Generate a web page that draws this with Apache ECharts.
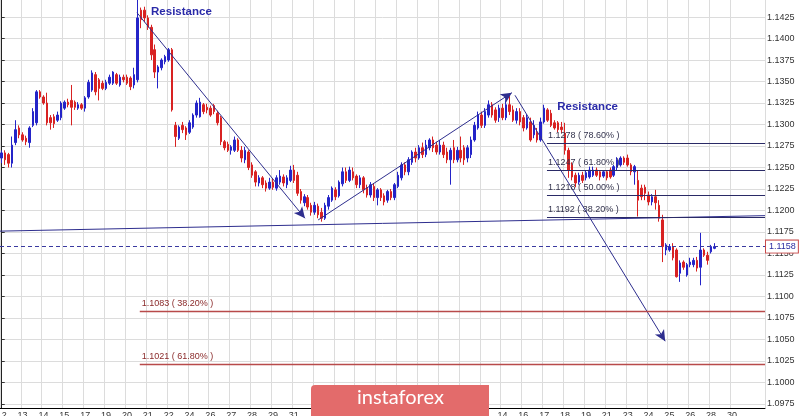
<!DOCTYPE html>
<html><head><meta charset="utf-8">
<script src="https://cdn.jsdelivr.net/npm/echarts@6/dist/echarts.min.js"></script>
<style>html,body{margin:0;padding:0;background:#fff}#c{width:800px;height:416px}</style>
</head><body><div id="c"></div>
<script>
// ---- data ----
const tradingDays = ['Dec 12','Dec 13','Dec 14','Dec 15','Dec 17','Dec 19','Dec 20','Dec 21','Dec 22','Dec 24','Dec 26','Dec 27','Dec 28','Dec 29','Dec 31',
  'Jan 02','Jan 03','Jan 04','Jan 06','Jan 07','Jan 08','Jan 09','Jan 10','Jan 11',
  'Jan 14','Jan 16','Jan 17','Jan 18','Jan 19','Jan 21','Jan 23','Jan 24','Jan 25','Jan 26','Jan 28','Jan 30'];
const sessionHours = ['00','04','08','12','16','20'];
const tailBars = ['Jan 31 00','Jan 31 04','Jan 31 08','Jan 31 12'];
const priceTicks = [1.0975,1.1000,1.1025,1.1050,1.1075,1.1100,1.1125,1.1150,1.1175,1.1200,1.1225,1.1250,1.1275,1.1300,1.1325,1.1350,1.1375,1.1400,1.1425];
// [open, close, low, high]
const ohlc = [
[1.1261,1.1267,1.1255,1.1270],[1.1267,1.1259,1.1253,1.1270],[1.1265,1.1255,1.1250,1.1267],[1.1255,1.1276,1.1250,1.1286],
[1.1279,1.1294,1.1276,1.1305],[1.1296,1.1288,1.1284,1.1299],[1.1288,1.1282,1.1280,1.1291],[1.1284,1.1280,1.1276,1.1287],
[1.1279,1.1296,1.1273,1.1298],[1.1299,1.1315,1.1297,1.1319],[1.1302,1.1338,1.1299,1.1340],[1.1338,1.1332,1.1330,1.1340],
[1.1332,1.1325,1.1323,1.1334],[1.1325,1.1302,1.1299,1.1337],[1.1308,1.1302,1.1294,1.1311],[1.1309,1.1301,1.1296,1.1312],
[1.1305,1.1311,1.1303,1.1315],[1.1308,1.1325,1.1305,1.1327],[1.1319,1.1326,1.1317,1.1328],[1.1326,1.1323,1.1320,1.1330],
[1.1328,1.1320,1.1299,1.1346],[1.1326,1.1320,1.1317,1.1328],[1.1319,1.1323,1.1317,1.1326],[1.1323,1.1319,1.1317,1.1325],
[1.1319,1.1331,1.1315,1.1333],[1.1332,1.1349,1.1330,1.1352],[1.1340,1.1360,1.1338,1.1363],[1.1358,1.1338,1.1334,1.1361],
[1.1352,1.1342,1.1328,1.1354],[1.1348,1.1342,1.1340,1.1351],[1.1342,1.1349,1.1340,1.1352],[1.1348,1.1355,1.1346,1.1358],
[1.1348,1.1361,1.1346,1.1362],[1.1358,1.1348,1.1346,1.1360],[1.1346,1.1355,1.1344,1.1358],[1.1355,1.1352,1.1349,1.1358],
[1.1355,1.1348,1.1346,1.1358],[1.1354,1.1344,1.1340,1.1356],[1.1346,1.1358,1.1342,1.1366],[1.1352,1.1424,1.1349,1.1445],
[1.1433,1.1422,1.1412,1.1436],[1.1433,1.1424,1.1419,1.1437],[1.1424,1.1413,1.1410,1.1427],[1.1413,1.1381,1.1375,1.1416],
[1.1387,1.1361,1.1354,1.1393],[1.1361,1.1367,1.1342,1.1369],[1.1366,1.1375,1.1363,1.1377],[1.1373,1.1379,1.1370,1.1381],
[1.1375,1.1387,1.1373,1.1389],[1.1387,1.1317,1.1315,1.1389],[1.1299,1.1286,1.1274,1.1303],[1.1284,1.1297,1.1282,1.1299],
[1.1299,1.1294,1.1290,1.1303],[1.1296,1.1288,1.1282,1.1298],[1.1291,1.1302,1.1289,1.1305],[1.1297,1.1311,1.1295,1.1313],
[1.1311,1.1325,1.1308,1.1328],[1.1309,1.1326,1.1308,1.1331],[1.1323,1.1315,1.1312,1.1325],[1.1320,1.1317,1.1313,1.1324],
[1.1319,1.1311,1.1309,1.1322],[1.1322,1.1315,1.1312,1.1324],[1.1313,1.1302,1.1299,1.1316],[1.1308,1.1280,1.1276,1.1310],
[1.1280,1.1273,1.1270,1.1282],[1.1277,1.1270,1.1268,1.1280],[1.1270,1.1274,1.1265,1.1276],[1.1270,1.1282,1.1268,1.1286],
[1.1282,1.1270,1.1268,1.1284],[1.1270,1.1261,1.1256,1.1275],[1.1259,1.1270,1.1255,1.1274],[1.1268,1.1250,1.1247,1.1270],
[1.1253,1.1241,1.1238,1.1256],[1.1245,1.1233,1.1228,1.1247],[1.1232,1.1238,1.1228,1.1241],[1.1238,1.1230,1.1226,1.1240],
[1.1232,1.1226,1.1222,1.1235],[1.1226,1.1233,1.1224,1.1238],[1.1233,1.1227,1.1224,1.1237],[1.1226,1.1238,1.1223,1.1241],
[1.1233,1.1240,1.1230,1.1247],[1.1239,1.1232,1.1228,1.1242],[1.1230,1.1238,1.1226,1.1241],[1.1235,1.1247,1.1233,1.1252],
[1.1247,1.1235,1.1232,1.1253],[1.1241,1.1220,1.1217,1.1245],[1.1222,1.1212,1.1208,1.1225],[1.1209,1.1216,1.1205,1.1219],
[1.1215,1.1204,1.1201,1.1218],[1.1206,1.1198,1.1194,1.1209],[1.1198,1.1206,1.1195,1.1210],[1.1205,1.1195,1.1191,1.1208],
[1.1198,1.1191,1.1187,1.1203],[1.1191,1.1206,1.1189,1.1209],[1.1205,1.1215,1.1201,1.1218],[1.1212,1.1226,1.1210,1.1228],
[1.1224,1.1216,1.1212,1.1227],[1.1217,1.1233,1.1215,1.1235],[1.1231,1.1245,1.1228,1.1250],[1.1245,1.1235,1.1232,1.1250],
[1.1235,1.1247,1.1233,1.1251],[1.1245,1.1238,1.1235,1.1250],[1.1240,1.1230,1.1226,1.1242],[1.1230,1.1238,1.1226,1.1241],
[1.1238,1.1224,1.1220,1.1240],[1.1226,1.1218,1.1215,1.1230],[1.1218,1.1230,1.1215,1.1233],[1.1228,1.1215,1.1211,1.1232],
[1.1215,1.1224,1.1206,1.1226],[1.1224,1.1215,1.1211,1.1226],[1.1217,1.1210,1.1206,1.1220],[1.1212,1.1222,1.1209,1.1224],
[1.1222,1.1215,1.1212,1.1225],[1.1215,1.1230,1.1212,1.1232],[1.1228,1.1241,1.1226,1.1245],[1.1238,1.1253,1.1235,1.1256],
[1.1253,1.1245,1.1241,1.1256],[1.1245,1.1259,1.1241,1.1262],[1.1256,1.1268,1.1253,1.1270],[1.1268,1.1261,1.1256,1.1273],
[1.1261,1.1273,1.1259,1.1276],[1.1273,1.1265,1.1261,1.1279],[1.1265,1.1276,1.1262,1.1282],[1.1273,1.1282,1.1270,1.1284],
[1.1282,1.1273,1.1268,1.1286],[1.1276,1.1268,1.1265,1.1280],[1.1268,1.1276,1.1265,1.1282],[1.1276,1.1265,1.1261,1.1280],
[1.1268,1.1259,1.1255,1.1273],[1.1259,1.1270,1.1230,1.1273],[1.1273,1.1259,1.1255,1.1282],[1.1259,1.1270,1.1256,1.1274],
[1.1270,1.1261,1.1256,1.1286],[1.1273,1.1259,1.1253,1.1276],[1.1261,1.1273,1.1256,1.1276],[1.1265,1.1282,1.1261,1.1286],
[1.1282,1.1299,1.1280,1.1303],[1.1296,1.1311,1.1294,1.1315],[1.1311,1.1299,1.1296,1.1315],[1.1299,1.1315,1.1296,1.1319],
[1.1311,1.1323,1.1308,1.1328],[1.1323,1.1311,1.1308,1.1326],[1.1317,1.1305,1.1302,1.1320],[1.1308,1.1319,1.1303,1.1323],
[1.1319,1.1308,1.1305,1.1324],[1.1308,1.1323,1.1305,1.1328],[1.1323,1.1315,1.1311,1.1333],[1.1317,1.1305,1.1303,1.1322],
[1.1305,1.1315,1.1301,1.1319],[1.1315,1.1303,1.1299,1.1319],[1.1308,1.1296,1.1292,1.1311],[1.1296,1.1308,1.1294,1.1312],
[1.1303,1.1282,1.1280,1.1308],[1.1288,1.1299,1.1284,1.1305],[1.1291,1.1282,1.1279,1.1296],[1.1282,1.1303,1.1280,1.1308],
[1.1303,1.1319,1.1301,1.1323],[1.1317,1.1305,1.1303,1.1319],[1.1313,1.1299,1.1297,1.1317],[1.1302,1.1296,1.1294,1.1305],
[1.1302,1.1294,1.1291,1.1304],[1.1297,1.1294,1.1290,1.1303],[1.1290,1.1270,1.1265,1.1302],[1.1270,1.1247,1.1238,1.1273],
[1.1253,1.1239,1.1235,1.1256],[1.1241,1.1232,1.1227,1.1244],[1.1233,1.1241,1.1230,1.1244],[1.1241,1.1235,1.1232,1.1245],
[1.1238,1.1244,1.1235,1.1247],[1.1239,1.1247,1.1237,1.1251],[1.1241,1.1247,1.1239,1.1251],[1.1247,1.1241,1.1239,1.1250],
[1.1245,1.1239,1.1235,1.1247],[1.1240,1.1245,1.1238,1.1247],[1.1245,1.1238,1.1235,1.1247],[1.1247,1.1239,1.1237,1.1250],
[1.1241,1.1251,1.1239,1.1253],[1.1250,1.1259,1.1247,1.1262],[1.1253,1.1261,1.1251,1.1263],[1.1261,1.1256,1.1253,1.1263],
[1.1261,1.1253,1.1251,1.1265],[1.1253,1.1245,1.1241,1.1255],[1.1245,1.1251,1.1230,1.1253],[1.1235,1.1212,1.1193,1.1247],
[1.1226,1.1216,1.1212,1.1230],[1.1227,1.1220,1.1212,1.1230],[1.1218,1.1210,1.1206,1.1222],[1.1210,1.1216,1.1206,1.1219],
[1.1216,1.1209,1.1201,1.1224],[1.1206,1.1191,1.1187,1.1212],[1.1189,1.1158,1.1140,1.1195],[1.1154,1.1160,1.1148,1.1162],
[1.1154,1.1158,1.1152,1.1161],[1.1158,1.1145,1.1142,1.1162],[1.1154,1.1123,1.1122,1.1156],[1.1127,1.1139,1.1117,1.1142],
[1.1140,1.1134,1.1131,1.1142],[1.1125,1.1137,1.1123,1.1139],[1.1137,1.1140,1.1134,1.1145],[1.1137,1.1142,1.1134,1.1145],
[1.1142,1.1133,1.1129,1.1146],[1.1134,1.1154,1.1113,1.1174],[1.1154,1.1148,1.1146,1.1156],[1.1148,1.1142,1.1137,1.1152],
[1.1152,1.1158,1.1150,1.1160],[1.1156,1.1158,1.1155,1.1162]
];
const lastPrice = 1.1158;
const fibRetracements = [[1.1278,'78.60%'],[1.1247,'61.80%'],[1.1218,'50.00%'],[1.1192,'38.20%']];
const fibExtensions = [[1.1083,'38.20%'],[1.1021,'61.80%']];
const fibRetracementStart = 156.8;
const fibExtensionStart = 39.7;
const chartStart = -0.5;
const chartEnd = 219.5;
// trend lines in (bar index, price)
const resistanceLine = [[40.5,1.1445],[219.5,1.1259]];
const supportLine = [[-0.5,1.1176],[219.5,1.1194]];
const arrowDown1 = [[38.9,1.1430],[87.2,1.1191]];
const arrowUp = [[91.0,1.1189],[146.7,1.1337]];
const arrowDown2 = [[147.6,1.1334],[190.8,1.1048]];
const resistanceLabels = [[42.8,1.1431],[159.6,1.1320]];

// ---- build ----
const categories = [];
tradingDays.forEach(d => sessionHours.forEach(h => categories.push(d + ' ' + h)));
tailBars.forEach(b => categories.push(b));
const isDayStart = (idx, val) => {
  const p = String(val).split(' ');
  return p[2] === '00' && tradingDays.indexOf(p[0] + ' ' + p[1]) >= 0;
};
const navy = '#2e2e8e';
const fibColor = '#2a2a66';
const redLine = '#b84a4a';

const arrowEnd = {symbol:'arrow', symbolSize:[8,11]};
const trendData = [
  [{coord:resistanceLine[0]},{coord:resistanceLine[1]}],
  [{coord:supportLine[0]},{coord:supportLine[1]}],
  [{coord:arrowDown1[0]},Object.assign({coord:arrowDown1[1]},arrowEnd)],
  [{coord:arrowUp[0]},Object.assign({coord:arrowUp[1]},arrowEnd)],
  [{coord:arrowDown2[0]},Object.assign({coord:arrowDown2[1]},arrowEnd)]
];
fibRetracements.forEach(([p,pct]) => trendData.push([
  {coord:[fibRetracementStart,p], lineStyle:{color:fibColor,width:1},
   label:{show:true, position:'insideStartTop', distance:[1,3], formatter:p.toFixed(4)+' ( '+pct+' )', color:'#33334d', fontSize:9}},
  {coord:[chartEnd,p], lineStyle:{color:fibColor,width:1}}]));
fibExtensions.forEach(([p,pct]) => trendData.push([
  {coord:[fibExtensionStart,p], lineStyle:{color:redLine,width:1.3},
   label:{show:true, position:'insideStartTop', distance:[2,3], formatter:p.toFixed(4)+' ( '+pct+' )', color:'#8a2a2a', fontSize:9}},
  {coord:[chartEnd,p], lineStyle:{color:redLine,width:1.3}}]));
// current price (dashed)
const priceStyle = {color:'#3a3aa0', type:[4,3], width:1};
trendData.push([
  {coord:[chartStart,lastPrice], lineStyle:priceStyle,
   label:{show:true, position:'end', distance:1, formatter:lastPrice.toFixed(4), fontSize:9, color:'#2a2aa0',
          backgroundColor:'#fff', borderColor:'#c84a4a', borderWidth:1, padding:[2,2,1,3]}},
  {coord:[chartEnd,lastPrice], lineStyle:priceStyle}]);

const chart = echarts.init(document.getElementById('c'), null, {renderer:'canvas'});
chart.setOption({
  animation:false,
  backgroundColor:'#ffffff',
  textStyle:{fontFamily:'"Liberation Sans", Arial, sans-serif'},
  grid:[{left:0, right:35, top:0, bottom:8, containLabel:false, outerBoundsMode:'none'}],
  xAxis:[
    {type:'category', data:categories, boundaryGap:true,
     axisLine:{show:true, lineStyle:{color:'#000', width:1}},
     axisTick:{show:false},
     axisLabel:{interval:isDayStart, formatter:v => String(v).split(' ')[1].replace(/^0/,''), fontSize:9, color:'#333', margin:3, hideOverlap:false},
     splitLine:{show:true, interval:isDayStart, lineStyle:{color:'#dcdcdc', width:1}}},
    {type:'value', min:chartStart, max:categories.length-0.5, show:false}
  ],
  yAxis:[
    {type:'value', position:'right', min:1.09703, max:1.14448,
     axisLine:{show:true, lineStyle:{color:'#222', width:1}},
     axisTick:{show:true, inside:false, length:3, lineStyle:{color:'#333'}, customValues:priceTicks},
     axisLabel:{fontSize:9, color:'#333', margin:2, formatter:v => v.toFixed(4), customValues:priceTicks},
     splitLine:{show:true, lineStyle:{color:'#dcdcdc', width:1}}}
  ],
  series:[
    {type:'candlestick', xAxisIndex:0, yAxisIndex:0, data:ohlc, barWidth:2,
     itemStyle:{color:'#2424c8', color0:'#d82222', borderColor:'#2424c8', borderColor0:'#d82222', borderWidth:1}},
    {type:'line', xAxisIndex:1, yAxisIndex:0, data:[], silent:true, z:5,
     markLine:{silent:true, animation:false, symbol:['none','none'],
       lineStyle:{color:navy, width:1, type:'solid'}, label:{show:false},
       data:trendData},
     markPoint:{silent:true, animation:false, symbol:'circle', symbolSize:1, itemStyle:{color:'rgba(0,0,0,0)'},
       label:{show:true, position:'right', distance:0, formatter:'Resistance', fontSize:11.5, fontWeight:'bold', color:'#2a2aa8'},
       data:resistanceLabels.map(c => ({coord:c}))}}
  ],
  graphic:[
    {type:'rect', left:311, top:385, z:100, zlevel:1, shape:{x:0, y:0, width:178, height:40, r:[4,0,0,0]}, style:{fill:'#e36b6b'}},
    {type:'text', left:357, top:388, z:101, zlevel:1, style:{text:'instaforex', fill:'#fff', font:'normal 20px Lato, "Open Sans", sans-serif'}}
  ]
});
</script></body></html>
